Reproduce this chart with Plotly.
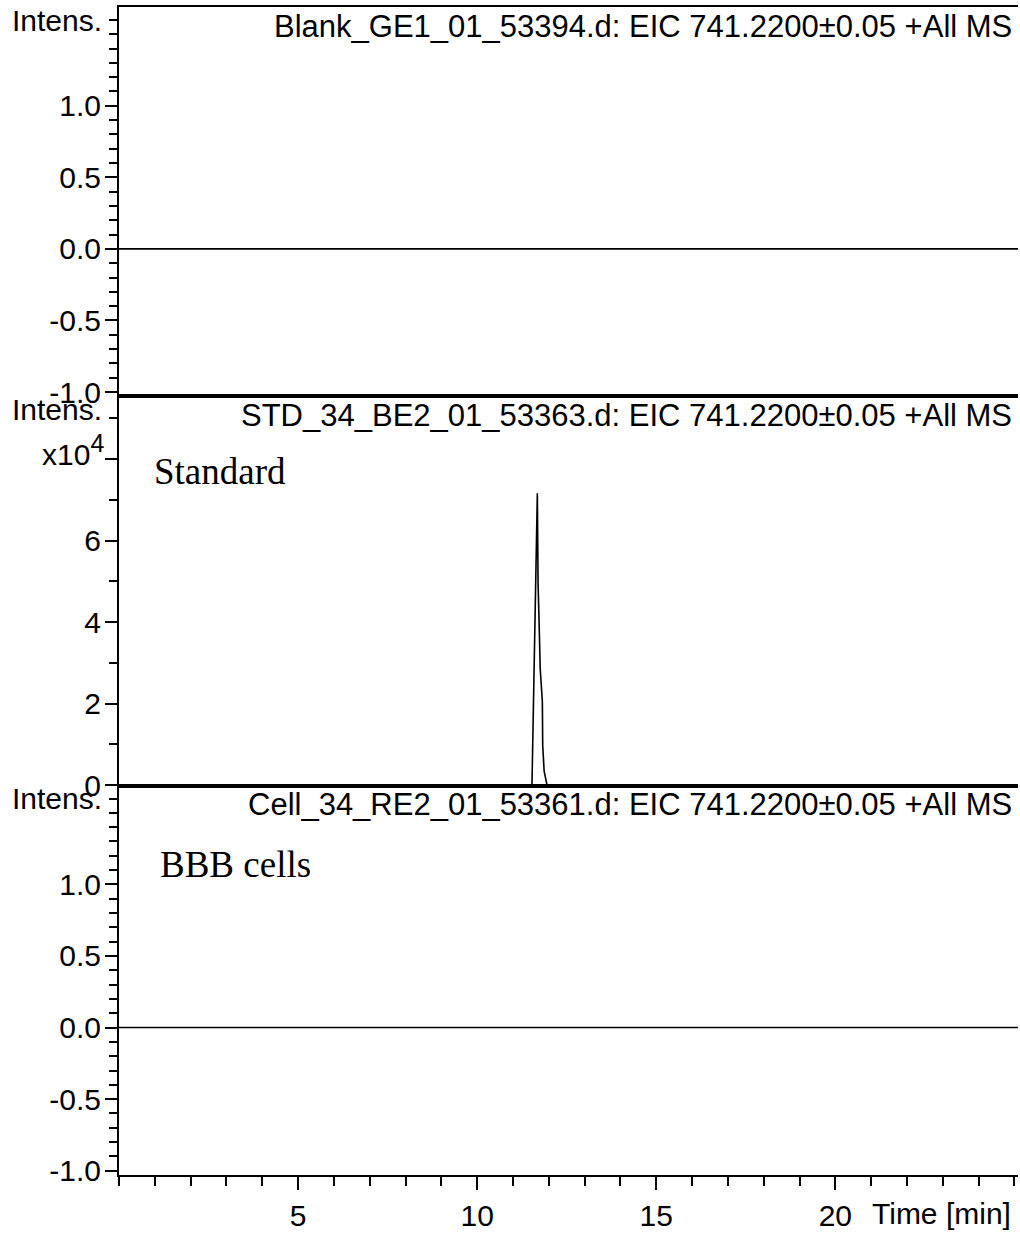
import plotly.graph_objects as go
from plotly.subplots import make_subplots

# === Data ===
blank_time = [0.0, 25.1]
blank_intensity = [0, 0]

std_time = [0.0, 11.53, 11.68, 11.70, 11.73, 11.76, 11.82, 11.83, 11.87, 11.95, 25.1]
std_intensity = [0, 0, 71600, 49500, 39700, 28600, 20500, 9700, 3400, 0, 0]

cell_time = [0.0, 25.1]
cell_intensity = [0, 0]

panel_titles = [
    "Blank_GE1_01_53394.d: EIC 741.2200±0.05 +All MS",
    "STD_34_BE2_01_53363.d: EIC 741.2200±0.05 +All MS",
    "Cell_34_RE2_01_53361.d: EIC 741.2200±0.05 +All MS",
]
sample_labels = ["", "Standard", "BBB cells"]

small_ticks = [-1.0, -0.5, 0.0, 0.5, 1.0]
small_ticktext = ["-1.0", "-0.5", "0.0", "0.5", "1.0"]
std_ticks = [0, 20000, 40000, 60000, 80000]
std_ticktext = ["0", "2", "4", "6", ""]
time_ticks = [5, 10, 15, 20]
time_ticktext = ["5", "10", "15", "20"]

SANS = "Liberation Sans, Arial, sans-serif"
SERIF = "Liberation Serif, Times New Roman, serif"
FS = 30

fig = make_subplots(rows=3, cols=1, shared_xaxes=True, vertical_spacing=0)

for row, (t, y) in enumerate([(blank_time, blank_intensity),
                              (std_time, std_intensity),
                              (cell_time, cell_intensity)], start=1):
    fig.add_trace(go.Scatter(x=t, y=y, mode="lines",
                             line=dict(color="black", width=1.6),
                             showlegend=False, hoverinfo="skip"),
                  row=row, col=1)

# axes
axis_common = dict(showgrid=False, zeroline=False, showline=True,
                   linecolor="black", linewidth=2)
for row in (1, 2, 3):
    fig.update_xaxes(range=[0, 25.1], mirror=True, **axis_common, row=row, col=1)
fig.update_xaxes(ticks="", showticklabels=False, row=1, col=1)
fig.update_xaxes(ticks="", showticklabels=False, row=2, col=1)
fig.update_xaxes(tickmode="array", tickvals=time_ticks, ticktext=time_ticktext,
                 ticks="outside", ticklen=13, tickwidth=2, tickcolor="black",
                 tickfont=dict(family=SANS, size=FS, color="black"),
                 minor=dict(tickmode="linear", tick0=0, dtick=1, ticks="outside",
                            ticklen=9, tickwidth=2, tickcolor="black"),
                 row=3, col=1)

ytick_common = dict(ticks="outside", ticklen=12, tickwidth=2, tickcolor="black",
                    ticklabelstandoff=-2,
                    tickfont=dict(family=SANS, size=FS, color="black"), tickmode="array")
for row in (1, 3):
    fig.update_yaxes(range=[-1.03, 1.69], tickvals=small_ticks, ticktext=small_ticktext,
                     minor=dict(tickmode="linear", tick0=0, dtick=0.1, ticks="outside",
                                ticklen=8, tickwidth=2, tickcolor="black"),
                     **ytick_common, **axis_common, row=row, col=1)
fig.update_yaxes(range=[-150, 95400], tickvals=std_ticks, ticktext=std_ticktext,
                 minor=dict(tickmode="linear", tick0=0, dtick=10000, ticks="outside",
                            ticklen=8, tickwidth=2, tickcolor="black"),
                 **ytick_common, **axis_common, row=2, col=1)

# annotations
yrefs = ["y domain", "y2 domain", "y3 domain"]
label_shift = [0, (33, -75), (39, -79)]
for i, yref in enumerate(yrefs):
    fig.add_annotation(text=panel_titles[i], xref="paper", yref=yref, x=1, y=1,
                       xanchor="right", yanchor="middle", xshift=-4, yshift=-19,
                       showarrow=False, font=dict(family=SANS, size=31, color="black"))
    fig.add_annotation(text="Intens.", xref="paper", yref=yref, x=0, y=1,
                       xanchor="left", yanchor="middle", xshift=-109, yshift=-13,
                       showarrow=False, font=dict(family=SANS, size=FS, color="black"))
    if sample_labels[i]:
        dx, dy = label_shift[i]
        fig.add_annotation(text=sample_labels[i], xref="paper", yref=yref, x=0, y=1,
                           xanchor="left", yanchor="middle", xshift=dx, yshift=dy,
                           showarrow=False,
                           font=dict(family=SERIF, size=37, color="black"))

fig.add_annotation(text="x10<sup><span style='font-size:25px'>4</span></sup>",
                   xref="paper", yref="y2 domain", x=0, y=1,
                   xanchor="right", yanchor="middle", xshift=-13, yshift=-54,
                   showarrow=False, font=dict(family=SANS, size=FS, color="black"))
fig.add_annotation(text="Time [min]", xref="paper", yref="y3 domain", x=1, y=0,
                   xanchor="right", yanchor="middle", xshift=-5, yshift=-38,
                   showarrow=False, font=dict(family=SANS, size=FS, color="black"))

fig.update_layout(width=1020, height=1234,
                  margin=dict(l=119, r=2, t=7, b=48),
                  paper_bgcolor="white", plot_bgcolor="white",
                  showlegend=False)

fig.write_html("out.html",
               config={"displayModeBar": False, "staticPlot": True},
               post_script="document.body.style.margin='0';"
                           "document.body.style.overflow='hidden';")
